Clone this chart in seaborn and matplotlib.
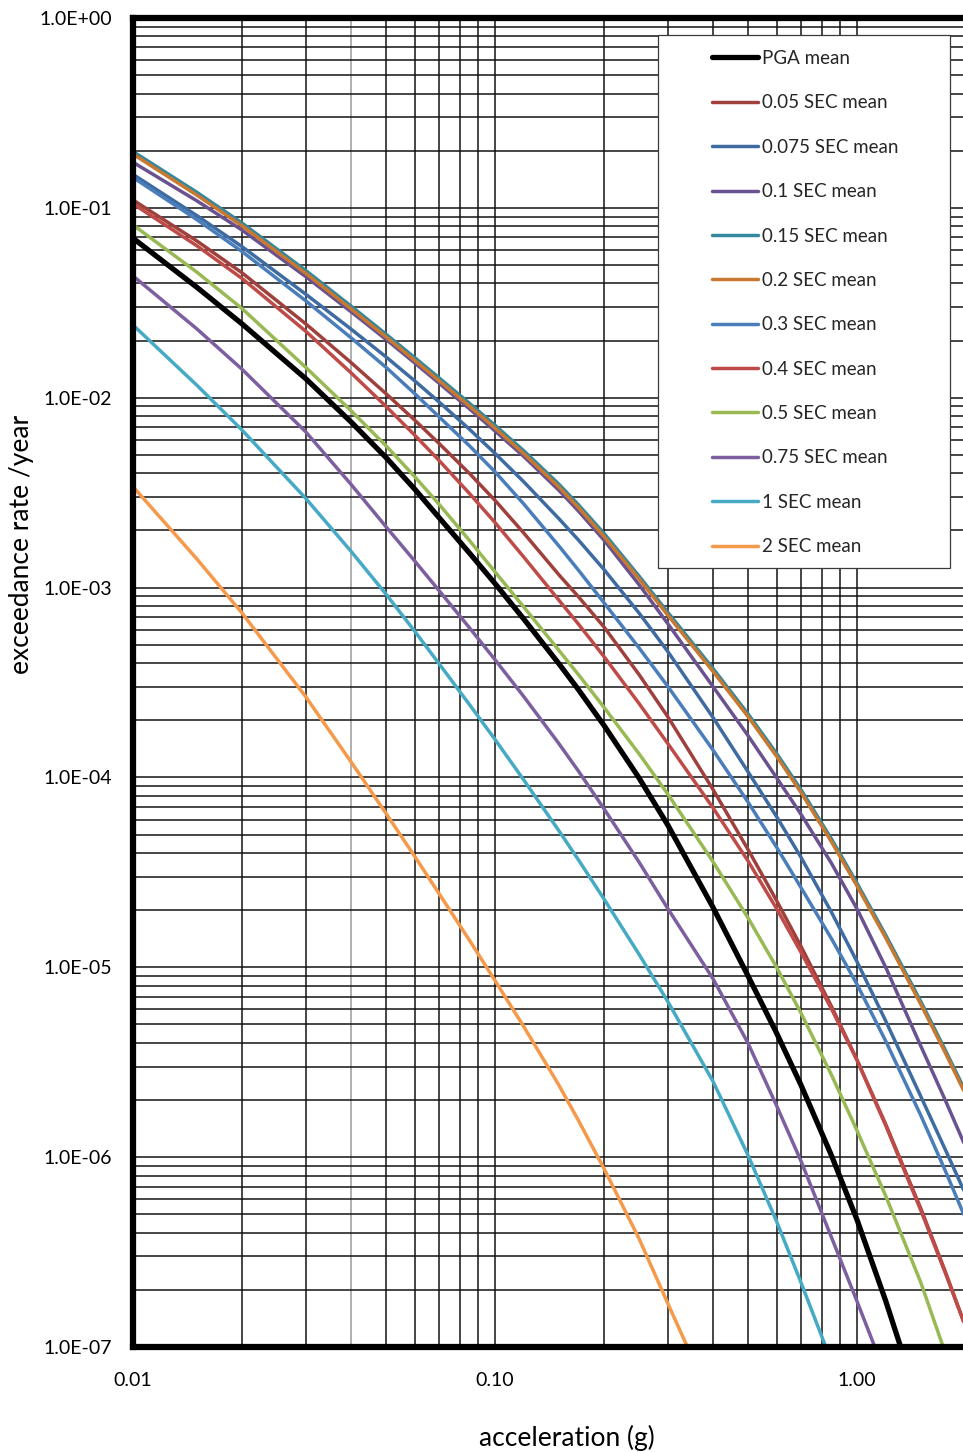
import matplotlib
matplotlib.use("Agg")
import matplotlib.pyplot as plt
from matplotlib.lines import Line2D
from matplotlib.patches import Rectangle
from matplotlib.ticker import FuncFormatter, FixedLocator, NullLocator
import pandas as pd
import seaborn as sns

# ---------------------------------------------------------------------------
# Hazard curves: annual exceedance rate vs spectral acceleration (g)
# ---------------------------------------------------------------------------
accel = [0.01, 0.015, 0.02, 0.03, 0.04, 0.05, 0.06, 0.07, 0.085, 0.1, 0.12,
         0.15, 0.17, 0.2, 0.25, 0.3, 0.4, 0.5, 0.6, 0.7, 0.85, 1.0, 1.2, 1.5,
         1.75, 2.0]

series_names = ["PGA mean", "0.05 SEC mean", "0.075 SEC mean", "0.1 SEC mean",
                "0.15 SEC mean", "0.2 SEC mean", "0.3 SEC mean", "0.4 SEC mean",
                "0.5 SEC mean", "0.75 SEC mean", "1 SEC mean", "2 SEC mean"]

accel_pga = accel[:23] + [1.32]
rate_pga = [0.0692, 0.0382, 0.0245, 0.0126, 7.46e-3, 4.84e-3, 3.30e-3, 2.34e-3,
            1.52e-3, 1.05e-3, 6.84e-4, 3.98e-4, 2.90e-4, 1.88e-4, 9.93e-5,
            5.62e-5, 2.07e-5, 9.0e-6, 4.49e-6, 2.40e-6, 1.02e-6, 4.68e-7,
            1.75e-7, 1.0e-7]

rate_005 = [0.110, 0.0670, 0.0455, 0.0245, 0.01533, 0.0105, 7.62e-3, 5.75e-3,
            3.99e-3, 2.88e-3, 1.94e-3, 1.17e-3, 8.95e-4, 6.2e-4, 3.48e-4,
            2.09e-4, 8.65e-5, 4.17e-5, 2.24e-5, 1.29e-5, 6.22e-6, 3.25e-6,
            1.49e-6, 5.37e-7, 2.52e-7, 1.26e-7]

rate_0075 = [0.150, 0.0911, 0.0625, 0.0351, 0.0230, 0.0164, 0.01227, 9.51e-3,
             6.82e-3, 5.09e-3, 3.61e-3, 2.31e-3, 1.78e-3, 1.245e-3, 7.34e-4,
             4.61e-4, 2.07e-4, 1.07e-4, 6.2e-5, 3.8e-5, 1.95e-5, 1.07e-5,
             5.22e-6, 2.09e-6, 1.105e-6, 6.3e-7]

rate_01 = [0.1738, 0.1090, 0.0764, 0.04345, 0.02839, 0.02028, 0.01525, 0.01194,
           8.74e-3, 6.68e-3, 4.91e-3, 3.26e-3, 2.53e-3, 1.778e-3, 1.036e-3,
           6.46e-4, 3.01e-4, 1.66e-4, 9.95e-5, 6.4e-5, 3.53e-5, 2.03e-5,
           1.0e-5, 3.85e-6, 2.01e-6, 1.12e-6]

rate_015 = [0.198, 0.1209, 0.0832, 0.0468, 0.0304, 0.0216, 0.01626, 0.01274,
            9.35e-3, 7.16e-3, 5.26e-3, 3.51e-3, 2.73e-3, 1.93e-3, 1.149e-3,
            7.41e-4, 3.75e-4, 2.16e-4, 1.335e-4, 8.63e-5, 4.74e-5, 2.77e-5,
            1.478e-5, 6.61e-6, 3.69e-6, 2.19e-6]

rate_02 = [0.192, 0.1168, 0.0805, 0.0452, 0.0294, 0.0209, 0.01571, 0.01231,
           9.03e-3, 6.92e-3, 5.08e-3, 3.39e-3, 2.64e-3, 1.86e-3, 1.11e-3,
           7.16e-4, 3.62e-4, 2.09e-4, 1.29e-4, 8.34e-5, 4.58e-5, 2.68e-5,
           1.43e-5, 6.39e-6, 3.57e-6, 2.12e-6]

rate_03 = [0.1445, 0.0868, 0.0589, 0.0324, 0.0207, 0.01445, 0.01051, 7.94e-3,
           5.58e-3, 4.07e-3, 2.76e-3, 1.66e-3, 1.235e-3, 8.32e-4, 4.81e-4,
           3.02e-4, 1.395e-4, 7.41e-5, 4.28e-5, 2.63e-5, 1.415e-5, 8.13e-6,
           4.09e-6, 1.66e-6, 8.55e-7, 4.68e-7]

rate_04 = [0.105, 0.0632, 0.0425, 0.0224, 0.01354, 9.0e-3, 6.35e-3, 4.68e-3,
           3.13e-3, 2.2e-3, 1.45e-3, 8.6e-4, 6.42e-4, 4.33e-4, 2.45e-4,
           1.51e-4, 6.92e-5, 3.63e-5, 2.03e-5, 1.2e-5, 6.04e-6, 3.24e-6,
           1.47e-6, 5.25e-7, 2.48e-7, 1.26e-7]

accel_05 = accel[:24] + [1.73]
rate_05 = [0.0813, 0.0459, 0.0295, 0.01445, 8.55e-3, 5.58e-3, 3.84e-3, 2.75e-3,
           1.77e-3, 1.21e-3, 7.91e-4, 4.68e-4, 3.48e-4, 2.34e-4, 1.332e-4,
           8.18e-5, 3.6e-5, 1.82e-5, 9.97e-6, 5.75e-6, 2.71e-6, 1.38e-6,
           6.25e-7, 2.19e-7, 1.0e-7]

accel_075 = accel[:22] + [1.12]
rate_075 = [0.0438, 0.02307, 0.01413, 6.61e-3, 3.50e-3, 2.09e-3, 1.38e-3,
            9.66e-4, 6.14e-4, 4.17e-4, 2.67e-4, 1.51e-4, 1.08e-4, 6.84e-5,
            3.58e-5, 2.04e-5, 8.71e-6, 3.98e-6, 1.86e-6, 9.55e-7, 3.78e-7,
            1.74e-7, 1.0e-7]

accel_1 = accel[:20] + [0.82]
rate_1 = [0.02415, 0.01165, 6.76e-3, 2.95e-3, 1.554e-3, 9.23e-4, 5.89e-4,
          3.98e-4, 2.42e-4, 1.585e-4, 9.71e-5, 5.25e-5, 3.68e-5, 2.29e-5,
          1.17e-5, 6.61e-6, 2.51e-6, 1.023e-6, 4.57e-7, 2.19e-7, 1.0e-7]

accel_2 = accel[:16] + [0.34]
rate_2 = [3.40e-3, 1.417e-3, 7.35e-4, 2.66e-4, 1.21e-4, 6.46e-5, 3.84e-5,
          2.45e-5, 1.387e-5, 8.51e-6, 4.88e-6, 2.40e-6, 1.56e-6, 8.71e-7,
          3.72e-7, 1.70e-7, 1.0e-7]

series_accel = [accel_pga, accel, accel, accel, accel, accel, accel, accel,
                accel_05, accel_075, accel_1, accel_2]
series_rate = [rate_pga, rate_005, rate_0075, rate_01, rate_015, rate_02,
               rate_03, rate_04, rate_05, rate_075, rate_1, rate_2]

colors = ["#000000", "#A0403D", "#3E6BA1", "#6A5290", "#33889E", "#C8782F",
          "#4A7EBB", "#BE4B48", "#98B954", "#7D5FA0", "#46AAC5", "#F59A4A"]
widths = [3.8] + [2.5] * 11

rows = []
for name, xs, ys in zip(series_names, series_accel, series_rate):
    assert len(xs) == len(ys), name
    for x, y in zip(xs, ys):
        rows.append({"accel": x, "rate": y, "series": name})
df = pd.DataFrame(rows)

# ---------------------------------------------------------------------------
# Figure
# ---------------------------------------------------------------------------
sns.set_theme(style="white")
plt.rcParams["font.family"] = ["Lato", "DejaVu Sans"]

W, H = 963, 1452
fig = plt.figure(figsize=(W / 100, H / 100), dpi=100)
ax_left, ax_right, ax_top, ax_bottom = 133, 966, 18, 1347
ax = fig.add_axes([ax_left / W, 1 - ax_bottom / H,
                   (ax_right - ax_left) / W, (ax_bottom - ax_top) / H])
ax.set_xscale("log")
ax.set_yscale("log")

# dense log grid (every 1..9 x decade)
grid_color, grid_lw = "#141414", 1.1
for dec in [0.01, 0.1, 1.0]:
    for m in range(1, 10):
        v = m * dec
        if v > 2.0001:
            continue
        col = "#9a9a9a" if abs(v - 0.04) < 1e-9 else grid_color
        ax.axvline(v, color=col, lw=grid_lw, zorder=1)
for e in range(-7, 0):
    for m in range(1, 10):
        ax.axhline(m * 10.0 ** e, color=grid_color, lw=grid_lw, zorder=1)
ax.axhline(1.0, color=grid_color, lw=grid_lw, zorder=1)

palette = dict(zip(series_names, colors))
size_map = dict(zip(series_names, widths))
n_before = len(ax.get_lines())
sns.lineplot(data=df, x="accel", y="rate", hue="series", hue_order=series_names,
             palette=palette, size="series", size_order=series_names,
             sizes=size_map, estimator=None, sort=False, legend=False,
             ax=ax, zorder=3)
for ln in ax.get_lines()[n_before:]:
    ln.set_solid_capstyle("butt")
    ln.set_solid_joinstyle("round")

ax.set_xlim(0.01, 2.0)
ax.set_ylim(1e-7, 1.0)

# ticks and labels
ax.xaxis.set_major_locator(FixedLocator([0.01, 0.1, 1.0]))
ax.xaxis.set_minor_locator(NullLocator())
ax.yaxis.set_major_locator(FixedLocator([10.0 ** e for e in range(-7, 1)]))
ax.yaxis.set_minor_locator(NullLocator())
ax.xaxis.set_major_formatter(FuncFormatter(lambda v, p: f"{v:.2f}"))
ax.yaxis.set_major_formatter(FuncFormatter(lambda v, p: f"{v:.1E}"))
ax.tick_params(axis="x", which="major", direction="out", length=4, width=0.8,
               color="black", labelsize=14, pad=14.3, labelcolor="black")
ax.tick_params(axis="y", which="major", direction="out", length=4, width=0.8,
               color="black", labelsize=14, pad=11, labelcolor="black")

for side, sp in ax.spines.items():
    sp.set_visible(True)
    sp.set_color("black")
    sp.set_linewidth(4.5)
    sp.set_zorder(4)

ax.set_xlabel("acceleration (g)", fontsize=19, color="black")
ax.set_ylabel("exceedance rate /year", fontsize=19, color="black")
ax.xaxis.set_label_coords((567 - ax_left) / (ax_right - ax_left),
                          (ax_bottom - 1438) / (ax_bottom - ax_top))
ax.xaxis.label.set_va("center")
ax.yaxis.set_label_coords((22 - ax_left) / (ax_right - ax_left),
                          (ax_bottom - 544) / (ax_bottom - ax_top))
ax.yaxis.label.set_va("center")

# legend box
box = Rectangle((658 / W, 1 - 568 / H), (950 - 658) / W, (568 - 35) / H,
                transform=fig.transFigure, facecolor="white",
                edgecolor="#3a3a3a", lw=0.9, zorder=5, clip_on=False)
ax.add_artist(box)

handles = [Line2D([], [], color=c, lw=w, solid_capstyle="round")
           for c, w in zip(colors, widths)]
fs = 13.5
fs_px = fs * 100 / 72
leg = ax.legend(handles, series_names, loc="upper left",
                bbox_to_anchor=(712 / W, 1 - 50 / H),
                bbox_transform=fig.transFigure, frameon=False, fontsize=fs,
                handlelength=46 / fs_px, handletextpad=4 / fs_px,
                labelspacing=1.46, borderpad=0, borderaxespad=0)
leg.set_zorder(6)

fig.savefig("out.png", dpi=100)
